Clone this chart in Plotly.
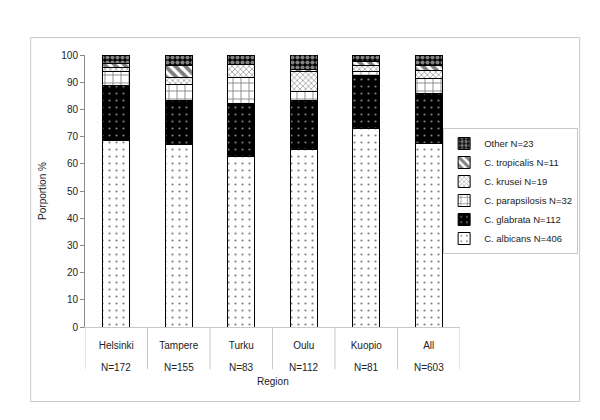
import plotly.graph_objects as go

regions = ["Helsinki", "Tampere", "Turku", "Oulu", "Kuopio", "All"]
n_labels = ["N=172", "N=155", "N=83", "N=112", "N=81", "N=603"]

series_names = ["C. albicans N=406", "C. glabrata N=112", "C. parapsilosis N=32",
                "C. krusei N=19", "C. tropicalis N=11", "Other N=23"]
albicans = [68.6, 67.1, 62.7, 65.2, 72.8, 67.3]
glabrata = [20.3, 16.1, 19.3, 17.9, 19.8, 18.6]
parapsilosis = [5.2, 5.8, 9.6, 3.6, 1.2, 5.3]
krusei = [1.2, 2.6, 4.8, 7.1, 2.5, 3.2]
tropicalis = [1.7, 4.5, 0.0, 0.9, 1.2, 1.8]
other = [2.9, 3.9, 3.6, 5.4, 2.5, 3.8]
values = [albicans, glabrata, parapsilosis, krusei, tropicalis, other]

patterns = [
    dict(shape=".", fgcolor="#000000", bgcolor="#ffffff", size=7, solidity=0.08),
    dict(shape=".", fgcolor="#ffffff", bgcolor="#000000", size=7, solidity=0.08),
    dict(shape="+", fgcolor="#000000", bgcolor="#ffffff", size=8, solidity=0.2),
    dict(shape="x", fgcolor="#555555", bgcolor="#ffffff", size=4, solidity=0.4),
    dict(shape="\\", fgcolor="#000000", bgcolor="#ffffff", size=7, solidity=0.55),
    dict(shape=".", fgcolor="#ffffff", bgcolor="#000000", size=5, solidity=0.55),
]

fig = go.Figure()
for name, vals, pat in zip(series_names, values, patterns):
    fig.add_trace(go.Bar(
        x=regions, y=vals, name=name,
        marker=dict(color=pat["bgcolor"], pattern=pat,
                    line=dict(color="#000000", width=1)),
    ))

GRAY = "#c8c8c8"
shapes = [dict(type="rect", xref="paper", yref="paper", x0=-0.145, x1=1.319,
               y0=-0.274, y1=1.064, line=dict(color=GRAY, width=1))]
for i in range(len(regions) + 1):
    shapes.append(dict(type="line", xref="x", yref="paper", x0=i - 0.5, x1=i - 0.5,
                       y0=0, y1=-0.155, line=dict(color=GRAY, width=1)))

annotations = [dict(x=r, y=-0.149, xref="x", yref="paper", text=n, showarrow=False,
                    xanchor="center", yanchor="middle", font=dict(size=10))
               for r, n in zip(regions, n_labels)]
annotations.append(dict(x=0.5, y=-0.2, xref="paper", yref="paper", text="Region",
                        showarrow=False, xanchor="center", yanchor="middle",
                        font=dict(size=10)))

fig.update_layout(
    width=600, height=420,
    barmode="stack", bargap=0.57,
    paper_bgcolor="#ffffff", plot_bgcolor="#ffffff",
    margin=dict(l=77, r=148, t=47, b=101),
    font=dict(family="Liberation Sans, Arial, sans-serif", size=10, color="#222222"),
    showlegend=True,
    legend=dict(traceorder="reversed", x=0.955, y=0.5, xanchor="left", yanchor="middle",
                bordercolor=GRAY, borderwidth=1, bgcolor="#ffffff",
                font=dict(size=9.5), tracegroupgap=0),
    xaxis=dict(type="category", range=[-0.5, 5.5], showline=True, linecolor=GRAY,
               linewidth=1, ticks="", ticklabelstandoff=9, showgrid=False),
    yaxis=dict(range=[0, 100], dtick=10, showgrid=False, showline=True,
               linecolor="#888888", linewidth=1, ticks="outside", ticklen=4,
               tickcolor="#888888", zeroline=False,
               title=dict(text="Porportion %", font=dict(size=10), standoff=12)),
    shapes=shapes,
    annotations=annotations,
)

fig.write_html("out.html")
